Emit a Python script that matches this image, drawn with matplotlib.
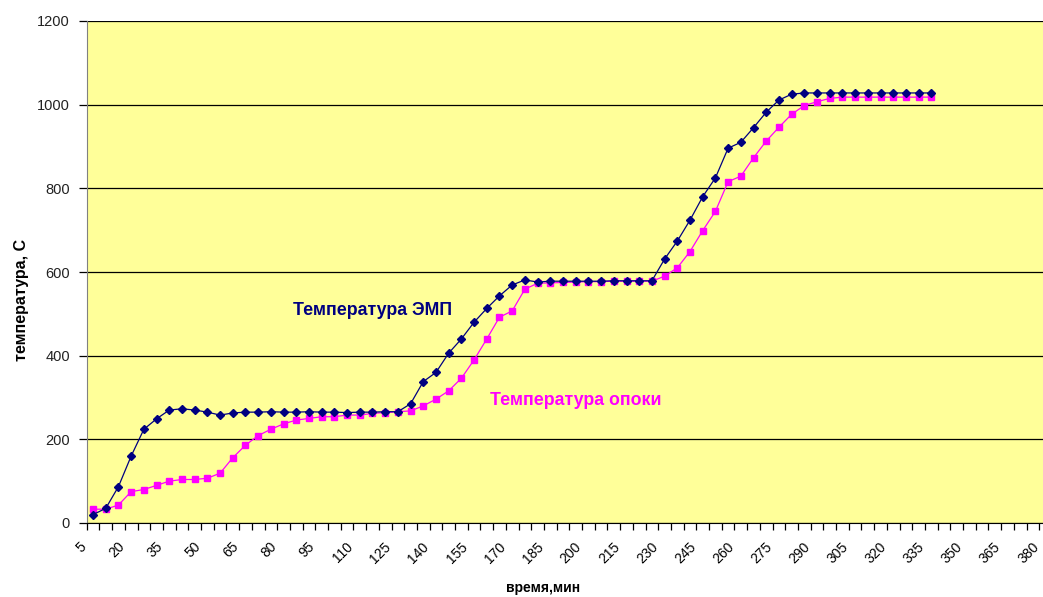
import matplotlib.pyplot as plt
from matplotlib.transforms import ScaledTranslation

plt.rcParams['font.family'] = ['Liberation Sans', 'DejaVu Sans']

# время, мин (шаг 5 мин) и подписи оси
minutes = list(range(5, 390, 5))          # категории оси 5..385
tick_minutes = list(range(5, 381, 15))    # подписанные значения 5..380

# температура ЭМП, С (5..335 мин)
temp_emp = [20, 35, 87, 160, 224, 249, 270, 273, 270, 265,
            258, 263, 265, 265, 266, 265, 265, 266, 265, 265,
            264, 265, 265, 266, 266, 285, 338, 360, 406, 440,
            480, 513, 543, 569, 581, 576, 578, 578, 578, 578,
            578, 579, 579, 579, 579, 631, 674, 724, 780, 825,
            896, 910, 945, 982, 1011, 1025, 1028, 1028, 1028, 1028,
            1028, 1028, 1028, 1028, 1028, 1028, 1028]

# температура опоки, С
temp_opoka = [33, 33, 43, 75, 80, 90, 100, 104, 104, 107,
              119, 156, 186, 209, 224, 237, 246, 250, 254, 254,
              258, 258, 262, 264, 266, 268, 280, 296, 316, 346,
              390, 440, 492, 507, 559, 573, 574, 575, 576, 577,
              577, 578, 578, 578, 578, 590, 610, 649, 699, 745,
              816, 829, 873, 913, 946, 977, 998, 1007, 1015, 1018,
              1018, 1018, 1018, 1018, 1018, 1018, 1018]

W, H = 1043, 597
fig = plt.figure(figsize=(W / 100, H / 100), dpi=100)
ax = fig.add_axes([86.7 / W, 74 / H, 978 / W, 502 / H])
ax.set_facecolor('#FFFF99')

idx_emp = list(range(len(temp_emp)))
idx_opoka = list(range(len(temp_opoka)))

ax.plot(idx_emp, temp_emp, color='#000080', lw=0.9, marker='D', ms=4.5,
        mec='#000080', mfc='#000080', zorder=3)
ax.plot(idx_opoka, temp_opoka, color='#FF00FF', lw=0.9, marker='s', ms=5,
        mec='#FF00FF', mfc='#FF00FF', zorder=2)

# оси
ax.set_xlim(-0.5, len(minutes) - 0.5)
ax.set_ylim(0, 1200)
ax.set_yticks(range(0, 1201, 200))
ax.yaxis.grid(True, color='black', lw=0.9)
ax.set_axisbelow(True)

ax.set_xticks([minutes.index(m) for m in tick_minutes])
ax.set_xticklabels([str(m) for m in tick_minutes], rotation=45,
                   ha='right', va='top', rotation_mode='anchor')
ax.set_xticks([i - 0.5 for i in range(len(minutes) + 1)], minor=True)
ax.tick_params(axis='x', which='major', length=0, pad=12, labelsize=10)
ax.tick_params(axis='x', which='minor', length=5, width=0.9, color='black')
ax.tick_params(axis='y', length=6, width=0.9, pad=6, labelsize=10.5,
               labelcolor='#222222')
shift = ScaledTranslation(-14 / 100, 0, fig.dpi_scale_trans)
for lab in ax.get_xticklabels():
    lab.set_transform(lab.get_transform() + shift)

for s in ['top', 'right']:
    ax.spines[s].set_visible(False)
ax.spines['left'].set_color('#808080')
ax.spines['bottom'].set_color('black')

fig.text(543 / W, 1 - 588 / H, 'время,мин', fontsize=10, fontweight='bold',
         ha='center', va='center')
fig.text(22 / W, 1 - 300 / H, 'температура, С', fontsize=11.5,
         fontweight='bold', rotation=90, ha='center', va='center')

ax.text(22.0, 509, 'Температура ЭМП', color='#000080', fontsize=12.8,
        fontweight='bold', ha='center', va='center')
ax.text(38.0, 294, 'Температура опоки', color='#FF00FF', fontsize=12.8,
        fontweight='bold', ha='center', va='center')

fig.savefig('out.png', dpi=100)
